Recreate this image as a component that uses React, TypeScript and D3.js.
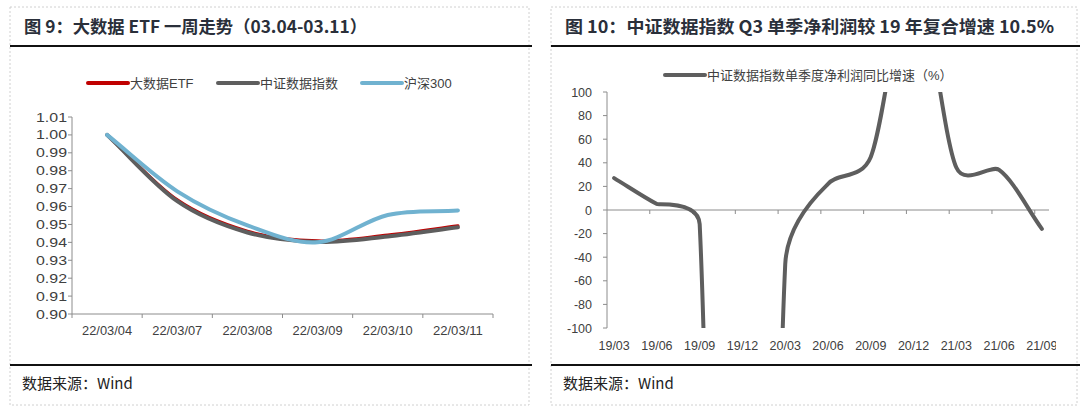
import React, { useRef, useEffect } from 'react';
import * as d3 from 'd3';

// 左图：大数据ETF一周走势
const dates = ['22/03/04', '22/03/07', '22/03/08', '22/03/09', '22/03/10', '22/03/11'];
const etfValues = [1.0, 0.9637, 0.9462, 0.9408, 0.9440, 0.9492];
const csiDataValues = [1.0, 0.9630, 0.9455, 0.9402, 0.9433, 0.9484];
const hs300Values = [1.0, 0.9685, 0.9495, 0.9400, 0.9553, 0.9578];
const leftTicks = [0.90, 0.91, 0.92, 0.93, 0.94, 0.95, 0.96, 0.97, 0.98, 0.99, 1.00, 1.01];

// 右图：中证数据指数单季度净利润同比增速
const quarters = ['19/03', '19/06', '19/09', '19/12', '20/03', '20/06', '20/09', '20/12', '21/03', '21/06', '21/09'];
const profitGrowth = [27, 5, -12, -1500, -46, 22, 45, 200, 36, 34, -16];
const rightTicks = [-100, -80, -60, -40, -20, 0, 20, 40, 60, 80, 100];

type Pt = [number, number];

// 仿 Excel 平滑线
function excelSmooth(pts: Pt[]): string {
  const p = d3.path();
  if (!pts.length) return '';
  p.moveTo(pts[0][0], pts[0][1]);
  const dist = (a: Pt, b: Pt) => Math.hypot(a[0] - b[0], a[1] - b[1]);
  for (let i = 0; i < pts.length - 1; i++) {
    const p0 = pts[i - 1] || pts[i];
    const p1 = pts[i];
    const p2 = pts[i + 1];
    const p3 = pts[i + 2] || pts[i + 1];
    const d12 = dist(p1, p2);
    const d02 = dist(p0, p2) || 1e-9;
    const d13 = dist(p1, p3) || 1e-9;
    let f1: number;
    let f2: number;
    if (d02 / 6 < d12 / 2 && d13 / 6 < d12 / 2) {
      f1 = p0 !== p1 ? 1 / 6 : 1 / 3;
      f2 = p2 !== p3 ? 1 / 6 : 1 / 3;
    } else if (d02 / 6 >= d12 / 2 && d13 / 6 >= d12 / 2) {
      f1 = d12 / 2 / d02;
      f2 = d12 / 2 / d13;
    } else if (d02 / 6 >= d12 / 2) {
      f1 = d12 / 2 / d02;
      f2 = d12 / 2 / d13 * (d13 / d02);
    } else {
      f1 = d12 / 2 / d02 * (d02 / d13);
      f2 = d12 / 2 / d13;
    }
    const c1: Pt = [p1[0] + (p2[0] - p0[0]) * f1, p1[1] + (p2[1] - p0[1]) * f1];
    const c2: Pt = [p2[0] + (p1[0] - p3[0]) * f2, p2[1] + (p1[1] - p3[1]) * f2];
    p.bezierCurveTo(c1[0], c1[1], c2[0], c2[1], p2[0], p2[1]);
  }
  return p.toString();
}

const AXIS = '#8c8c8c';
const LABEL = '#404040';
const FONT = 'Arial, "Liberation Sans", "Noto Sans CJK SC", sans-serif';
const CJK = '"Noto Sans CJK SC", "Liberation Sans", sans-serif';

export default function App() {
  const svgRef = useRef<SVGSVGElement>(null);

  useEffect(() => {
    const svg = d3.select(svgRef.current);
    svg.selectAll('*').remove();

    // 外框与标题
    const panels = [
      { x0: 10, x1: 529, title: '图 9：大数据 ETF 一周走势（03.04-03.11）', tx: 24, tw: 343 },
      { x0: 551, x1: 1077, title: '图 10：中证数据指数 Q3 单季净利润较 19 年复合增速 10.5%', tx: 565, tw: 489 },
    ];
    panels.forEach(pn => {
      svg.append('rect')
        .attr('x', pn.x0).attr('y', 7).attr('width', pn.x1 - pn.x0).attr('height', 398)
        .attr('fill', 'none').attr('stroke', '#d0d0d0').attr('stroke-dasharray', '2,2');
      svg.append('text')
        .attr('x', pn.tx).attr('y', 33)
        .attr('font-family', CJK).attr('font-weight', 'bold').attr('font-size', 17)
        .attr('fill', '#2a2f3a')
        .attr('textLength', pn.tw).attr('lengthAdjust', 'spacingAndGlyphs')
        .text(pn.title);
      svg.append('line').attr('x1', pn.x0).attr('x2', pn.x1 + 3).attr('y1', 46).attr('y2', 46)
        .attr('stroke', '#111').attr('stroke-width', 2);
      svg.append('line').attr('x1', pn.x0).attr('x2', pn.x1 + 3).attr('y1', 365).attr('y2', 365)
        .attr('stroke', '#111').attr('stroke-width', 2);
      svg.append('text')
        .attr('x', pn.tx - 2).attr('y', 389)
        .attr('font-family', CJK).attr('font-size', 15).attr('fill', '#222')
        .text('数据来源：Wind');
    });

    // ===== 左图 =====
    const lx = d3.scaleBand<string>().domain(dates).range([72, 493]);
    const ly = d3.scaleLinear().domain([0.90, 1.01]).range([314, 117]);
    const lg = svg.append('g');

    lg.append('line').attr('x1', 72).attr('x2', 72).attr('y1', ly(1.01)).attr('y2', ly(0.90))
      .attr('stroke', AXIS);
    leftTicks.forEach(t => {
      lg.append('line').attr('x1', 68).attr('x2', 72).attr('y1', ly(t)).attr('y2', ly(t)).attr('stroke', AXIS);
      lg.append('text').attr('x', 67).attr('y', ly(t) + 4.5)
        .attr('text-anchor', 'end').attr('font-family', FONT).attr('font-size', 13)
        .attr('fill', LABEL).attr('textLength', 31).attr('lengthAdjust', 'spacingAndGlyphs')
        .text(d3.format('.2f')(t));
    });
    lg.append('line').attr('x1', 72).attr('x2', 493).attr('y1', 314).attr('y2', 314).attr('stroke', AXIS);
    const boundaries = dates.map(d => lx(d) as number).concat([493]);
    boundaries.forEach(b => {
      lg.append('line').attr('x1', b).attr('x2', b).attr('y1', 314).attr('y2', 318).attr('stroke', AXIS);
    });
    dates.forEach(d => {
      lg.append('text').attr('x', (lx(d) as number) + lx.bandwidth() / 2).attr('y', 335)
        .attr('text-anchor', 'middle').attr('font-family', FONT).attr('font-size', 13)
        .attr('fill', LABEL).attr('textLength', 50).attr('lengthAdjust', 'spacingAndGlyphs')
        .text(d);
    });

    const leftSeries = [
      { name: '大数据ETF', values: etfValues, color: '#c00000', width: 3.2 },
      { name: '中证数据指数', values: csiDataValues, color: '#5e5e5e', width: 4 },
      { name: '沪深300', values: hs300Values, color: '#70b2d0', width: 4 },
    ];
    leftSeries.forEach(s => {
      const pts: Pt[] = s.values.map((v, i) => [(lx(dates[i]) as number) + lx.bandwidth() / 2, ly(v)]);
      lg.append('path').attr('d', excelSmooth(pts)).attr('fill', 'none')
        .attr('stroke', s.color).attr('stroke-width', s.width).attr('stroke-linecap', 'round');
    });

    // 左图图例
    const legendX = [88, 218, 362];
    leftSeries.forEach((s, i) => {
      lg.append('line').attr('x1', legendX[i]).attr('x2', legendX[i] + 40).attr('y1', 83).attr('y2', 83)
        .attr('stroke', s.color).attr('stroke-width', 4).attr('stroke-linecap', 'round');
      lg.append('text').attr('x', legendX[i] + 42).attr('y', 87.5)
        .attr('font-family', FONT).attr('font-size', 13).attr('fill', LABEL).text(s.name);
    });

    // ===== 右图 =====
    const rx = d3.scaleLinear().domain([0, 31]).range([607, 1049]);
    const ry = d3.scaleLinear().domain([-100, 100]).range([328, 92]);
    const rg = svg.append('g');

    const defs = svg.append('defs');
    defs.append('clipPath').attr('id', 'rplot').append('rect')
      .attr('x', 600).attr('y', ry(100)).attr('width', 460).attr('height', ry(-100) - ry(100));
    defs.append('clipPath').attr('id', 'rpanel').append('rect')
      .attr('x', 551).attr('y', 50).attr('width', 505).attr('height', 310);

    rg.append('line').attr('x1', 607).attr('x2', 607).attr('y1', ry(100)).attr('y2', ry(-100)).attr('stroke', AXIS);
    rightTicks.forEach(t => {
      rg.append('line').attr('x1', 603).attr('x2', 607).attr('y1', ry(t)).attr('y2', ry(t)).attr('stroke', AXIS);
      rg.append('text').attr('x', 592).attr('y', ry(t) + 4.5)
        .attr('text-anchor', 'end').attr('font-family', FONT).attr('font-size', 12.5)
        .attr('fill', LABEL).text(String(t));
    });
    rg.append('line').attr('x1', 607).attr('x2', 1049).attr('y1', ry(0)).attr('y2', ry(0)).attr('stroke', AXIS);
    d3.range(1, 11).forEach(k => {
      rg.append('line').attr('x1', rx(k * 3)).attr('x2', rx(k * 3)).attr('y1', ry(0)).attr('y2', ry(0) + 4)
        .attr('stroke', AXIS);
    });
    const labels = rg.append('g').attr('clip-path', 'url(#rpanel)');
    quarters.forEach((q, i) => {
      labels.append('text').attr('x', rx(i * 3 + 0.5)).attr('y', 350)
        .attr('text-anchor', 'middle').attr('font-family', FONT).attr('font-size', 12.5)
        .attr('fill', LABEL).text(q);
    });

    const rpts: Pt[] = profitGrowth.map((v, i) => [rx(i * 3 + 0.5), ry(v)]);
    rg.append('path').attr('d', excelSmooth(rpts)).attr('fill', 'none')
      .attr('clip-path', 'url(#rplot)')
      .attr('stroke', '#5e5e5e').attr('stroke-width', 4).attr('stroke-linecap', 'round');

    rg.append('line').attr('x1', 665).attr('x2', 705).attr('y1', 75).attr('y2', 75)
      .attr('stroke', '#5e5e5e').attr('stroke-width', 4).attr('stroke-linecap', 'round');
    rg.append('text').attr('x', 707).attr('y', 79.5)
      .attr('font-family', FONT).attr('font-size', 13).attr('fill', LABEL)
      .text('中证数据指数单季度净利润同比增速（%）');
  }, []);

  return (
    <svg ref={svgRef} width={1080} height={412}
      style={{ position: 'absolute', left: 0, top: 0, background: '#fff' }} />
  );
}
